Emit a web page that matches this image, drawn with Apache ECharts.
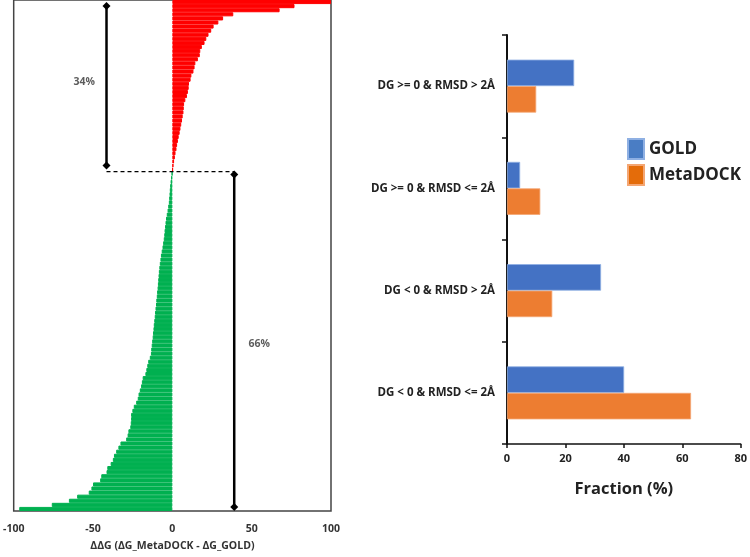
<!DOCTYPE html>
<html>
<head>
<meta charset="utf-8">
<script src="https://cdn.jsdelivr.net/npm/echarts@6/dist/echarts.min.js"></script>
<style>html,body{margin:0;padding:0;background:#fff;}#c{width:750px;height:557px;}</style>
</head>
<body>
<div id="c"></div>
<script>
// Left panel: sorted ΔΔG values (top = most positive)
var positiveDDG = [100, 77, 67.6, 38.4, 32, 29, 26, 24.5, 22.8, 21.4, 20.3, 18.6, 17.6, 17.3, 16.1, 14.5, 14, 13.3, 12, 11.5, 10.5, 10.3, 9.8, 9.2, 8.2, 7.4, 7.2, 7, 6.5, 6.1, 5.6, 5.1, 4.6, 4, 3.5, 3, 2.6, 2, 1.6, 1.1, 0.7, 0.3];
var negativeDDG = [-0.3, -0.8, -1.1, -1.4, -1.6, -1.8, -2, -2.2, -2.6, -3, -3.5, -4, -4.3, -4.6, -4.9, -5.1, -5.4, -5.8, -6.2, -6.7, -7.2, -7.5, -7.9, -8.2, -8.5, -8.7, -8.9, -9.1, -9.3, -9.6, -9.8, -10.1, -10.3, -10.6, -10.9, -11.1, -11.4, -11.7, -11.9, -12.2, -12.4, -12.7, -13, -13.3, -13.5, -14.2, -15.2, -15.8, -16.4, -17, -18.7, -19.2, -19.7, -20.5, -21.3, -21.8, -22.8, -24.3, -25.2, -26, -26, -26.2, -26.5, -27.7, -28.2, -29.1, -32.7, -34, -35.4, -36.8, -37.5, -38.9, -41, -41.5, -44.8, -45.5, -50, -51, -52.7, -60, -65.2, -76, -96.5];
var leftTicks = [-100, -50, 0, 50, 100];
var positiveLabel = '34%';
var negativeLabel = '66%';

// Right panel
var categories = ['DG < 0 & RMSD <= 2Å', 'DG < 0 & RMSD > 2Å', 'DG >= 0 & RMSD <= 2Å', 'DG >= 0 & RMSD > 2Å'];
var goldValues = [40.1, 32.2, 4.5, 23];
var metaDockValues = [63, 15.5, 11.4, 10];
var fractionTicks = [0, 20, 40, 60, 80];

var allDDG = positiveDDG.concat(negativeDDG);
var nBars = allDDG.length;
var nPos = positiveDDG.length;
var idx = allDDG.map(function (_, i) { return String(i); });
var RED = '#FF0000', GREEN = '#00B050';
var ddgData = allDDG.map(function (v) {
  var c = v >= 0 ? RED : GREEN;
  return { value: v, itemStyle: { color: c, borderColor: c, borderWidth: 1 } };
});

var FONT = 'Open Sans';
var chart = echarts.init(document.getElementById('c'));
var option = {
  backgroundColor: '#fff',
  animation: false,
  textStyle: { fontFamily: FONT },
  grid: [
    { left: 11, top: 0, width: 320, height: 518, show: true, borderColor: '#444', borderWidth: 1.5, backgroundColor: 'transparent' },
    { left: 507, top: 35, width: 236, height: 409 }
  ],
  legend: {
    orient: 'vertical', left: 622, top: 133, itemWidth: 16, itemHeight: 20, itemGap: 4,
    icon: 'rect',
    textStyle: { fontFamily: FONT, fontSize: 17, fontWeight: 'bold', color: '#222' },
    data: [
      { name: 'GOLD', itemStyle: { color: '#4A7DC4' } },
      { name: 'MetaDOCK', itemStyle: { color: '#E46C0A' } }
    ]
  },
  xAxis: [
    {
      gridIndex: 0, type: 'value', min: leftTicks[0], max: leftTicks[leftTicks.length - 1], interval: 50,
      axisLine: { show: false }, axisTick: { show: false }, splitLine: { show: false },
      axisLabel: { fontFamily: FONT, fontSize: 10.5, fontWeight: 'bold', color: '#333', margin: 13 },
      name: 'ΔΔG (ΔG_MetaDOCK - ΔG_GOLD)', nameLocation: 'middle', nameGap: 30,
      nameTextStyle: { fontFamily: FONT, fontSize: 10.5, fontWeight: 'bold', color: '#333' }
    },
    {
      gridIndex: 1, type: 'value', min: 0, max: 80, interval: 20,
      axisLine: { show: true, lineStyle: { color: '#111', width: 1.5 } },
      axisTick: { show: true, length: 4, lineStyle: { color: '#111', width: 1.5 } },
      splitLine: { show: false },
      axisLabel: { fontFamily: FONT, fontSize: 11, fontWeight: 'bold', color: '#222', margin: 9 },
      name: 'Fraction (%)', nameLocation: 'middle', nameGap: 37,
      nameTextStyle: { fontFamily: FONT, fontSize: 16.5, fontWeight: 'bold', color: '#222' }
    }
  ],
  yAxis: [
    { gridIndex: 0, type: 'category', data: idx, inverse: true, show: false, boundaryGap: true },
    { gridIndex: 0, type: 'value', min: 0, max: nBars, inverse: true, show: false },
    {
      gridIndex: 1, type: 'category', data: categories,
      axisLine: { show: true, lineStyle: { color: '#111', width: 2 } },
      axisTick: { show: true, length: 5, lineStyle: { color: '#111', width: 1.5 } },
      axisLabel: { fontFamily: FONT, fontSize: 11.5, fontWeight: 'bold', color: '#222', margin: 12 }
    }
  ],
  series: [
    {
      type: 'bar', xAxisIndex: 0, yAxisIndex: 0, data: ddgData,
      barCategoryGap: 0, silent: true
    },
    {
      type: 'line', xAxisIndex: 0, yAxisIndex: 1,
      data: [[-41.5, 1.45], [-41.5, 40.5]],
      symbol: 'diamond', symbolSize: 8, showSymbol: true,
      lineStyle: { color: '#000', width: 2.5 }, itemStyle: { color: '#000' }, silent: true
    },
    {
      type: 'line', xAxisIndex: 0, yAxisIndex: 1,
      data: [[-41.5, nPos], [39, nPos]],
      symbol: 'none', lineStyle: { color: '#000', width: 1.3, type: [4, 3] }, silent: true
    },
    {
      type: 'line', xAxisIndex: 0, yAxisIndex: 1,
      data: [[39, 42.7], [39, 124]],
      symbol: 'diamond', symbolSize: 8,
      lineStyle: { color: '#000', width: 2.5 }, itemStyle: { color: '#000' }, silent: true
    },
    {
      type: 'scatter', xAxisIndex: 0, yAxisIndex: 1, symbolSize: 1,
      itemStyle: { color: 'rgba(0,0,0,0)' },
      data: [
        { value: [-55.5, 20], label: { formatter: positiveLabel } },
        { value: [54.7, 84.2], label: { formatter: negativeLabel } }
      ],
      label: { show: true, position: 'inside', fontFamily: FONT, fontSize: 10.5, fontWeight: 'bold', color: '#333' },
      silent: true
    },
    {
      name: 'GOLD', type: 'bar', xAxisIndex: 1, yAxisIndex: 2, data: goldValues,
      barWidth: 26.5, barGap: '0%', itemStyle: { color: '#4472C4', borderColor: '#8FB0E3', borderWidth: 0.8 }
    },
    {
      name: 'MetaDOCK', type: 'bar', xAxisIndex: 1, yAxisIndex: 2, data: metaDockValues,
      barWidth: 26.5, barGap: '0%', itemStyle: { color: '#ED7D31', borderColor: '#F4A673', borderWidth: 0.8 }
    }
  ]
};
chart.setOption(option);
</script>
</body>
</html>
